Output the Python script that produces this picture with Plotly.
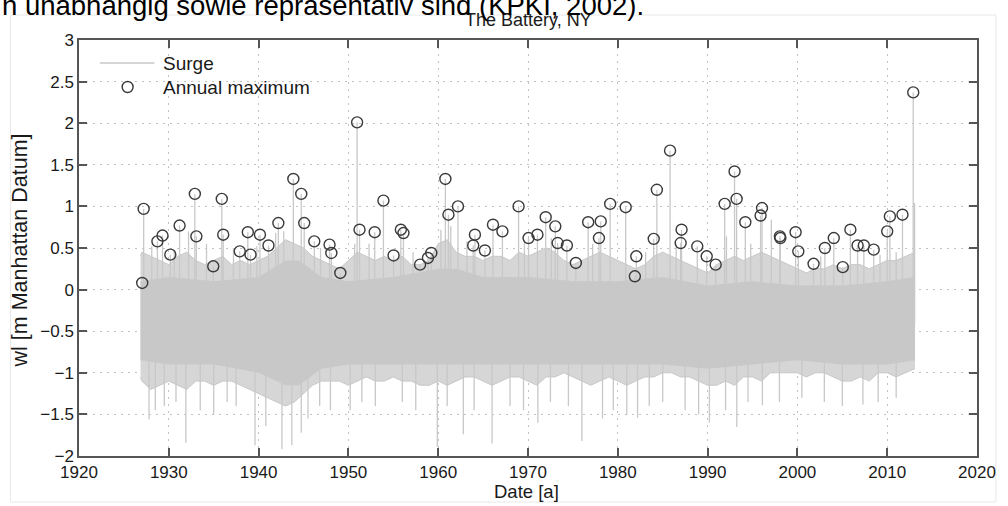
import plotly.graph_objects as go

# ---------------- data ----------------
# annual maxima (decimal year, water level in m)
am_year = [1927.04, 1927.2, 1928.73, 1929.3, 1930.17, 1931.2, 1932.9, 1933.07, 1934.95, 1935.9,
           1936.06, 1937.9, 1938.8, 1939.1, 1940.15, 1941.1, 1942.2, 1943.87, 1944.75, 1945.08,
           1946.2, 1947.9, 1948.1, 1949.1, 1950.97, 1951.24, 1952.93, 1953.9, 1955.03, 1955.84,
           1956.13, 1957.98, 1958.86, 1959.23, 1960.8, 1961.14, 1962.2, 1963.9, 1964.09, 1965.2,
           1966.1, 1967.15, 1968.95, 1970.06, 1971.05, 1971.97, 1973.04, 1973.3, 1974.33, 1975.33,
           1976.7, 1977.9, 1978.1, 1979.15, 1980.88, 1981.9, 1982.06, 1984.0, 1984.35, 1985.82,
           1987.0, 1987.1, 1988.85, 1989.9, 1990.9, 1991.9, 1993.0, 1993.23, 1994.2, 1995.9,
           1996.06, 1998.05, 1998.1, 1999.8, 2000.1, 2001.8, 2003.06, 2004.05, 2005.05, 2005.9,
           2006.7, 2007.4, 2008.5, 2010.0, 2010.3, 2011.7, 2012.9]
am_value = [0.08, 0.97, 0.58, 0.65, 0.42, 0.77, 1.15, 0.64, 0.28, 1.09,
            0.66, 0.46, 0.69, 0.42, 0.66, 0.53, 0.80, 1.33, 1.15, 0.80,
            0.58, 0.54, 0.44, 0.20, 2.01, 0.72, 0.69, 1.07, 0.41, 0.72,
            0.68, 0.30, 0.38, 0.44, 1.33, 0.90, 1.00, 0.53, 0.66, 0.47,
            0.78, 0.70, 1.00, 0.62, 0.66, 0.87, 0.76, 0.56, 0.53, 0.32,
            0.81, 0.62, 0.82, 1.03, 0.99, 0.16, 0.40, 0.61, 1.20, 1.67,
            0.56, 0.72, 0.52, 0.40, 0.30, 1.03, 1.42, 1.09, 0.81, 0.89,
            0.98, 0.64, 0.62, 0.69, 0.46, 0.31, 0.50, 0.62, 0.27, 0.72,
            0.53, 0.53, 0.48, 0.70, 0.88, 0.90, 2.37]

# outer (spiky) envelope of the surge record, per year
band_year = [1926.85] + list(range(1927, 2013)) + [2013.1]
band_top = [0.40,
            0.45, 0.40, 0.35, 0.30, 0.40, 0.45, 0.35, 0.30, 0.35, 0.40,
            0.30, 0.35, 0.30, 0.35, 0.40, 0.50, 0.60, 0.55, 0.50, 0.40,
            0.35, 0.30, 0.25, 0.35, 0.45, 0.40, 0.35, 0.40, 0.35, 0.40,
            0.30, 0.30, 0.35, 0.55, 0.60, 0.45, 0.40, 0.40, 0.35, 0.40,
            0.40, 0.35, 0.45, 0.40, 0.45, 0.50, 0.45, 0.35, 0.30, 0.35,
            0.40, 0.45, 0.40, 0.35, 0.30, 0.25, 0.30, 0.40, 0.45, 0.40,
            0.35, 0.30, 0.25, 0.20, 0.30, 0.35, 0.40, 0.35, 0.40, 0.45,
            0.40, 0.35, 0.30, 0.25, 0.20, 0.25, 0.25, 0.30, 0.25, 0.30,
            0.30, 0.25, 0.30, 0.35, 0.35, 0.40,
            0.45]
band_bottom = [-1.05,
               -1.10, -1.20, -1.15, -1.10, -1.15, -1.20, -1.10, -1.10, -1.15, -1.10,
               -1.10, -1.15, -1.20, -1.25, -1.30, -1.35, -1.40, -1.35, -1.25, -1.15,
               -1.10, -1.10, -1.10, -1.15, -1.10, -1.05, -1.10, -1.10, -1.05, -1.10,
               -1.10, -1.15, -1.15, -1.10, -1.15, -1.10, -1.05, -1.05, -1.10, -1.15,
               -1.10, -1.05, -1.05, -1.10, -1.15, -1.05, -1.05, -1.00, -1.05, -1.10,
               -1.15, -1.10, -1.05, -1.10, -1.15, -1.10, -1.05, -1.05, -1.00, -1.00,
               -1.05, -1.05, -1.10, -1.15, -1.15, -1.10, -1.15, -1.05, -1.05, -1.10,
               -1.00, -1.00, -1.00, -1.00, -1.05, -1.00, -1.00, -1.05, -1.10, -1.10,
               -1.05, -1.10, -1.00, -1.00, -1.05, -1.00,
               -0.95]

# solid core of the surge record
core_year = [1926.85, 1930, 1935, 1940, 1943, 1944.5, 1947, 1950, 1955, 1960, 1962,
             1965, 1970, 1975, 1980, 1985, 1990, 1995, 2000, 2005, 2010, 2013.1]
core_top = [0.10, 0.15, 0.10, 0.15, 0.35, 0.35, 0.15, 0.10, 0.15, 0.25, 0.25,
            0.15, 0.15, 0.10, 0.10, 0.15, 0.05, 0.10, 0.05, 0.05, 0.10, 0.15]
core_bottom = [-0.85, -0.90, -0.90, -1.00, -1.15, -1.15, -0.95, -0.90, -0.90, -0.90, -0.90,
               -0.90, -0.90, -0.90, -0.90, -0.90, -0.95, -0.90, -0.85, -0.90, -0.90, -0.85]

# isolated surge spikes outside the dense band
up_spike_year = [1928.1, 1930.6, 1932.2, 1934.2, 1937.2, 1939.8, 1941.9, 1942.8, 1946.9,
                 1950.7, 1952.3, 1957.2, 1960.3, 1961.4, 1963.2, 1969.6, 1972.6, 1977.2,
                 1983.1, 1986.5, 1992.1, 1994.8, 1997.1, 2002.6, 2009.2, 2011.0, 2013.05]
up_spike_value = [0.52, 0.48, 0.70, 0.55, 0.50, 0.52, 0.68, 0.70, 0.50,
                  0.55, 0.55, 0.45, 0.72, 0.76, 0.58, 0.60, 0.62, 0.55,
                  0.45, 0.55, 0.64, 0.55, 0.84, 0.40, 0.42, 0.45, 1.04]
down_spike_year = [1927.8, 1928.5, 1929.5, 1930.8, 1931.9, 1933.5, 1935.0, 1936.5, 1937.5,
                   1939.6, 1940.8, 1942.6, 1943.7, 1944.75, 1945.5, 1946.8, 1948.0, 1950.2,
                   1951.5, 1953.0, 1956.0, 1957.5, 1959.9, 1961.0, 1962.8, 1964.0, 1966.0,
                   1968.0, 1969.5, 1971.1, 1972.5, 1974.5, 1976.0, 1978.3, 1979.5, 1981.0,
                   1982.2, 1983.5, 1985.0, 1987.5, 1989.0, 1990.2, 1992.0, 1993.25, 1994.5,
                   1996.1, 1998.0, 2000.5, 2003.0, 2005.0, 2007.3, 2009.0, 2011.0]
down_spike_value = [-1.56, -1.45, -1.40, -1.35, -1.84, -1.45, -1.50, -1.35, -1.40,
                    -1.87, -1.64, -1.92, -1.87, -1.72, -1.55, -1.40, -1.45, -1.45,
                    -1.35, -1.40, -1.35, -1.45, -1.89, -1.40, -1.74, -1.45, -1.85,
                    -1.40, -1.45, -1.60, -1.35, -1.40, -1.82, -1.55, -1.45, -1.50,
                    -1.54, -1.40, -1.35, -1.45, -1.50, -1.60, -1.45, -1.65, -1.35,
                    -1.39, -1.35, -1.30, -1.35, -1.40, -1.38, -1.35, -1.30]

x_ticks = [1920, 1930, 1940, 1950, 1960, 1970, 1980, 1990, 2000, 2010, 2020]
y_ticks = [-2, -1.5, -1, -0.5, 0, 0.5, 1, 1.5, 2, 2.5, 3]
legend_labels = ["Surge", "Annual maximum"]

# ---------------- figure ----------------
SURGE = "#c8c8c8"
SURGE_LIGHT = "#d6d6d6"
MARK = "#3a3a3a"
FONT = "Liberation Sans, Arial, sans-serif"
TXT = "#1a1a1a"

fig = go.Figure()

# spiky outer band
fig.add_trace(go.Scatter(x=band_year, y=band_bottom, mode="lines",
                         line=dict(color=SURGE, width=1), showlegend=False, hoverinfo="skip"))
fig.add_trace(go.Scatter(x=band_year, y=band_top, mode="lines", fill="tonexty",
                         fillcolor=SURGE_LIGHT, line=dict(color=SURGE, width=1),
                         showlegend=False, hoverinfo="skip"))
# solid core
fig.add_trace(go.Scatter(x=core_year, y=core_bottom, mode="lines",
                         line=dict(color=SURGE, width=0), showlegend=False, hoverinfo="skip"))
fig.add_trace(go.Scatter(x=core_year, y=core_top, mode="lines", fill="tonexty",
                         fillcolor=SURGE, line=dict(color=SURGE, width=0),
                         showlegend=False, hoverinfo="skip"))

# surge spikes (to annual maxima and isolated peaks)
sx, sy = [], []
for t, v in zip(am_year + up_spike_year + down_spike_year,
                am_value + up_spike_value + down_spike_value):
    sx += [t, t, None]
    sy += [v, -0.4, None]
fig.add_trace(go.Scatter(x=sx, y=sy, mode="lines", name=legend_labels[0],
                         line=dict(color=SURGE, width=1.3), showlegend=False, hoverinfo="skip"))

# annual maxima
fig.add_trace(go.Scatter(x=am_year, y=am_value, mode="markers", name=legend_labels[1],
                         marker=dict(symbol="circle-open", size=11,
                                     line=dict(color=MARK, width=1.4), color=MARK),
                         showlegend=False))

axis_common = dict(showline=True, mirror="ticks", linecolor="#555555", linewidth=1.5,
                   ticks="inside", ticklen=8, tickwidth=1.5, tickcolor="#555555",
                   showgrid=True, gridcolor="#c2c2c2", griddash="2px,5px", gridwidth=1,
                   zeroline=False, tickfont=dict(family=FONT, size=17, color=TXT))

fig.update_xaxes(range=[1920, 2020], tickvals=x_ticks, **axis_common)
fig.update_yaxes(range=[-2, 3], tickvals=y_ticks,
                 ticktext=[("%g" % v).replace("-", "\u2212") for v in y_ticks], **axis_common)

W, H = 1008, 506
L, R, T, B = 79, 24, 40, 50
pw, ph = W - L - R, H - T - B


def px_x(p):
    return (p - L) / pw


def px_y(p):
    return (H - B - p) / ph


annotations = [
    dict(text="The Battery, NY", x=0.5, y=px_y(20), xanchor="center", yanchor="middle",
         font=dict(size=18, family=FONT, color=TXT)),
    dict(text="Date [a]", x=px_x(530), y=px_y(492), xanchor="center", yanchor="middle",
         font=dict(size=18.5, family=FONT, color=TXT)),
    dict(text="wl [m Manhattan Datum]", x=px_x(20), y=px_y(250), xanchor="center", yanchor="middle",
         textangle=-90, font=dict(size=21.5, family=FONT, color=TXT)),
    dict(text="n unabhängig sowie repräsentativ sind (KPKI, 2002).",
         x=px_x(0), y=px_y(22), xanchor="left", yanchor="bottom", borderpad=0,
         font=dict(size=27.5, family=FONT, color="#000000")),
    # legend texts
    dict(text=legend_labels[0], x=px_x(162), y=px_y(63), xanchor="left", yanchor="middle",
         font=dict(size=19, family=FONT, color=TXT)),
    dict(text=legend_labels[1], x=px_x(162), y=px_y(87), xanchor="left", yanchor="middle",
         font=dict(size=19, family=FONT, color=TXT)),
]
for a in annotations:
    a.update(xref="paper", yref="paper", showarrow=False)

shapes = [
    # faint frame of the original picture
    dict(type="rect", x0=px_x(10), x1=px_x(1003), y0=px_y(502), y1=px_y(15),
         line=dict(color="#e8e8e8", width=1), layer="below"),
    # legend samples
    dict(type="line", x0=px_x(100), x1=px_x(155), y0=px_y(63), y1=px_y(63),
         line=dict(color=SURGE, width=1.5)),
    dict(type="circle", x0=px_x(122.5), x1=px_x(133.5), y0=px_y(92.5), y1=px_y(81.5),
         line=dict(color=MARK, width=1.4)),
]
for s in shapes:
    s.update(xref="paper", yref="paper")

fig.update_layout(
    width=W, height=H,
    margin=dict(l=L, r=R, t=T, b=B),
    paper_bgcolor="white", plot_bgcolor="white",
    font=dict(family=FONT, color=TXT),
    showlegend=False,
    annotations=annotations,
    shapes=shapes,
)

fig.write_html("out.html", config={"displayModeBar": False},
               post_script="document.body.style.margin='0';")
